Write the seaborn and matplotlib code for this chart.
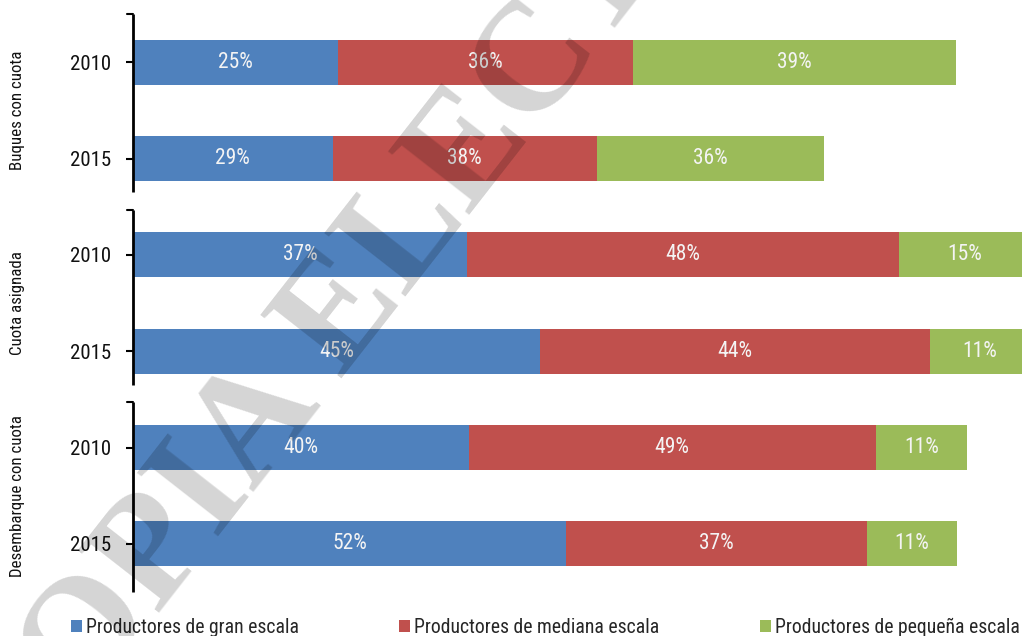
import numpy as np
import pandas as pd
import matplotlib
matplotlib.use("Agg")
import matplotlib.pyplot as plt
from matplotlib.patches import Patch
from matplotlib.transforms import blended_transform_factory
from matplotlib import font_manager as fm
import seaborn as sns

# ---------------- data ----------------
groups = ["Buques con cuota", "Cuota asignada", "Desembarque con cuota"]
years = ["2010", "2015"]
series = ["Productores de gran escala", "Productores de mediana escala",
          "Productores de pequeña escala"]
# bar segment lengths (as drawn, arbitrary units)
gran = [22.8, 22.2, 37.1, 45.2, 37.3, 48.1]
mediana = [32.7, 29.3, 48.0, 43.4, 45.2, 33.4]
pequena = [35.9, 25.3, 14.7, 10.9, 10.2, 10.0]
# labels printed on the segments
lab_gran = ["25%", "29%", "37%", "45%", "40%", "52%"]
lab_mediana = ["36%", "38%", "48%", "44%", "49%", "37%"]
lab_pequena = ["39%", "36%", "15%", "11%", "11%", "11%"]

colors = ["#4F81BD", "#C0504D", "#9BBB59"]

# ---------------- font: look for a narrow sans ----------------
narrow_path = None
scale = 1.0
preferred = ["Liberation Sans Narrow", "Arial Narrow", "Roboto Condensed",
             "Open Sans Condensed", "Noto Sans Condensed", "DejaVu Sans Condensed"]
tl = fm.fontManager.ttflist
for name in preferred:
    for f in tl:
        if f.name == name and f.style == "normal" and f.weight in (400, "normal", "regular"):
            narrow_path = f.fname
            break
    if narrow_path:
        break
if narrow_path is None:
    for f in tl:
        if (str(f.stretch) in ("condensed", "semi-condensed", "extra-condensed") or
                "Condensed" in f.fname or "Narrow" in f.fname) \
                and f.style == "normal" and f.weight in (400, "normal", "regular") \
                and "Serif" not in f.name and "Mono" not in f.name:
            narrow_path = f.fname
            break
if narrow_path is None:
    for f in tl:
        if f.name == "Liberation Sans" and f.style == "normal" and f.weight in (400, "normal", "regular"):
            narrow_path = f.fname
            scale = 0.85
            break


def fp(size):
    if narrow_path:
        return fm.FontProperties(fname=narrow_path, size=size * scale)
    return fm.FontProperties(family="DejaVu Sans", size=size * 0.8)


# ---------------- build table ----------------
cats = [f"{g}|{y}" for g in groups for y in years]
df = pd.DataFrame({"cat": cats, "gran": gran, "mediana": mediana, "pequena": pequena})
df["c1"] = df["gran"]
df["c2"] = df["gran"] + df["mediana"]
df["c3"] = df["c2"] + df["pequena"]

sns.set_style("white")
plt.rcParams["font.family"] = ["DejaVu Sans"]

W, H = 1022, 636
fig = plt.figure(figsize=(W / 100, H / 100), dpi=100)
ax = fig.add_axes([133 / W, (H - 592) / H, (W - 133) / W, (592 - 14) / H])

bw = 0.47
for col, c in zip(["c3", "c2", "c1"], colors[::-1]):
    sns.barplot(data=df, y="cat", x=col, order=cats, orient="h", color=c,
                saturation=1, width=bw, ax=ax, errorbar=None, linewidth=0)

ax.set_xlim(0, 889 / 9)
ax.set_ylim(len(cats) - 0.5, -0.5)
ax.set_xlabel("")
ax.set_ylabel("")
ax.set_xticks([])

# segment labels
for i in range(len(cats)):
    for lab, start, val in [(lab_gran[i], 0, gran[i]),
                            (lab_mediana[i], df["c1"][i], mediana[i]),
                            (lab_pequena[i], df["c2"][i], pequena[i])]:
        ax.text(start + val / 2, i, lab, ha="center", va="center",
                color="#F4F4F4", fontproperties=fp(15.5))

# y tick labels: years
ax.set_yticks(range(len(cats)))
ax.set_yticklabels([c.split("|")[1] for c in cats], color="#111111")
for t in ax.get_yticklabels():
    t.set_fontproperties(fp(15))
ax.tick_params(axis="y", length=5, width=1.5, color="black", pad=11, left=True)

for s in ax.spines.values():
    s.set_visible(False)

# grouped axis segments
tr = blended_transform_factory(ax.transAxes, ax.transData)
npg = len(years)
for gi, g in enumerate(groups):
    top = gi * npg - 0.5
    bot = (gi + 1) * npg - 0.5
    top_s = top + (0.03 if gi > 0 else 0)
    bot_s = bot - (0.15 if gi < len(groups) - 1 else 0)
    ax.plot([0, 0], [top_s, bot_s], transform=tr, color="black", lw=2,
            clip_on=False, solid_capstyle="butt")
    ax.plot([-6 / 889, 0], [top_s, top_s], transform=tr, color="black", lw=1.5,
            clip_on=False)
    ax.text(-115 / 889, (top + bot) / 2, g, transform=tr, rotation=90,
            ha="center", va="center", color="#111111", fontproperties=fp(12.2))

# legend
handles = [Patch(facecolor=c, edgecolor="none") for c in colors]
fig.legend(handles, series, loc="center left", bbox_to_anchor=(71 / W, 1 - 627 / H),
           ncol=3, frameon=False, prop=fp(14.2), borderpad=0, borderaxespad=0,
           handlelength=0.55, handleheight=0.55, handletextpad=0.2,
           columnspacing=5.1)

# watermark
fig.text(13 / W, 1 - 799 / H, "COPIA ELECTRÓNICA", rotation=52,
         rotation_mode="anchor", ha="left", va="baseline", fontsize=112,
         family="Liberation Serif", weight="bold", color="black", alpha=0.17,
         zorder=10)

fig.savefig("out.png", dpi=100)
